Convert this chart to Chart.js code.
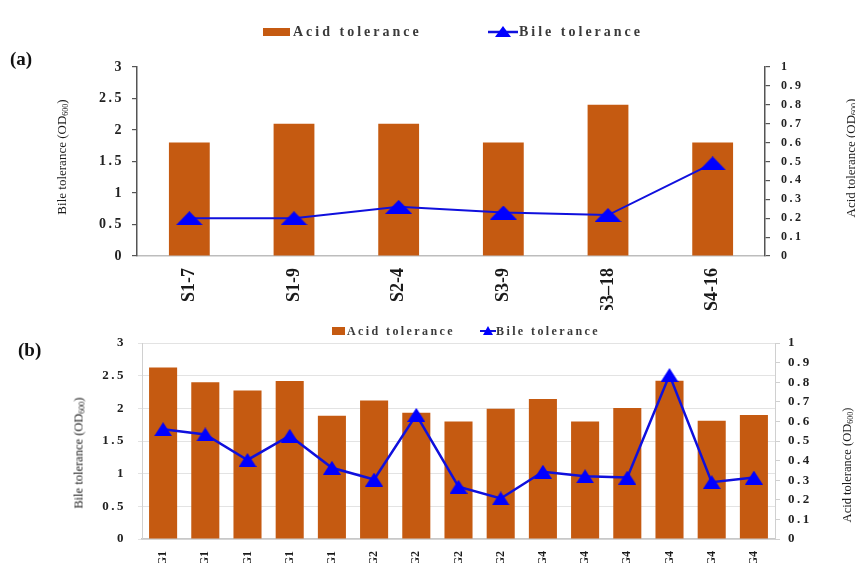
<!DOCTYPE html>
<html>
<head>
<meta charset="utf-8">
<script src="https://cdn.jsdelivr.net/npm/chart.js@4/dist/chart.umd.min.js"></script>
<style>
  html, body { margin: 0; padding: 0; background: #fff; }
  #wrap { position: relative; width: 855px; height: 563px; overflow: hidden; background: #fff; }
  .cv { position: absolute; left: 0; }
  .txt { position: absolute; white-space: nowrap; font-family: "Liberation Serif", "Times New Roman", serif; color: #222; }
  .panel { font-weight: bold; font-size: 19px; color: #111; }
  .leg { font-weight: bold; color: #3a3a3a; transform: translateY(-50%); }
  .ytitle { font-size: 13px; color: #1a1a1a; transform: translate(-50%, -50%) rotate(-90deg); }
  .ytitle sub { font-size: 8px; vertical-align: -2px; }
  .icon { position: absolute; }
</style>
</head>
<body>
<div id="wrap">
  <canvas id="chartA" class="cv" width="855" height="310" style="top:0"></canvas>
  <canvas id="chartB" class="cv" width="855" height="263" style="top:300px"></canvas>

  <!-- panel (a) labels -->
  <div class="txt panel" style="left:10px; top:48px;">(a)</div>
  <svg class="icon" style="left:263px; top:27px" width="28" height="10"><rect x="0" y="1" width="27" height="8" fill="#C55A11"/></svg>
  <div class="txt leg" style="left:293px; top:32px; font-size:14px; letter-spacing:3px;">Acid tolerance</div>
  <svg class="icon" style="left:486px; top:25px" width="34" height="14"><line x1="2" y1="7" x2="32" y2="7" stroke="#1010dd" stroke-width="2.5"/><polygon points="17,1 25,12 9,12" fill="#0000ff"/></svg>
  <div class="txt leg" style="left:519px; top:32px; font-size:14px; letter-spacing:3px;">Bile tolerance</div>
  <div class="txt ytitle" style="left:62px; top:157px;">Bile tolerance (OD<sub>600</sub>)</div>
  <div class="txt ytitle" style="left:851px; top:158px;">Acid tolerance (OD<sub>600</sub>)</div>

  <!-- panel (b) labels -->
  <div class="txt panel" style="left:18px; top:339px;">(b)</div>
  <svg class="icon" style="left:332px; top:326px" width="14" height="10"><rect x="0" y="1" width="13" height="8" fill="#C55A11"/></svg>
  <div class="txt leg" style="left:347px; top:331px; font-size:12px; letter-spacing:2.4px;">Acid tolerance</div>
  <svg class="icon" style="left:479px; top:325px" width="18" height="12"><line x1="1" y1="6" x2="17" y2="6" stroke="#1010dd" stroke-width="2"/><polygon points="9,1 14,10 4,10" fill="#0000ff"/></svg>
  <div class="txt leg" style="left:496px; top:331px; font-size:12px; letter-spacing:2.4px;">Bile tolerance</div>
  <div class="txt ytitle" style="left:79px; top:453px; font-size:12.5px;">Bile tolerance (OD<sub>600</sub>)</div>
  <div class="txt ytitle" style="left:847px; top:465px; font-size:12.5px;">Acid tolerance (OD<sub>600</sub>)</div>
</div>

<script>
// ---- data: panel (a) ----
const strainsA = ['S1-7', 'S1-9', 'S2-4', 'S3-9', 'S3\u201318', 'S4-16'];
const acidA = [0.6, 0.7, 0.7, 0.6, 0.8, 0.6];
const bileA = [0.6, 0.6, 0.78, 0.69, 0.65, 1.47];

// ---- data: panel (b) ----
const groupsB = ['G1', 'G1', 'G1', 'G1', 'G1', 'G2', 'G2', 'G2', 'G2', 'G4', 'G4', 'G4', 'G4', 'G4', 'G4'];
const acidB = [0.875, 0.8, 0.758, 0.806, 0.629, 0.707, 0.644, 0.6, 0.665, 0.714, 0.6, 0.668, 0.808, 0.603, 0.633];
const bileB = [1.68, 1.6, 1.21, 1.58, 1.09, 0.91, 1.9, 0.8, 0.62, 1.03, 0.96, 0.94, 2.51, 0.87, 0.94];

// ---- axis tick labels (shared by both panels) ----
const bileTicks = ['0', '0.5', '1', '1.5', '2', '2.5', '3'];
const acidTicks = ['0', '0.1', '0.2', '0.3', '0.4', '0.5', '0.6', '0.7', '0.8', '0.9', '1'];

const ORANGE = '#C55A11';
const BLUE_LINE = '#1010dd';
const BLUE_MARK = '#0000ff';
const SERIF = '"Liberation Serif", "Times New Roman", serif';

// flattened triangle marker drawn onto a small canvas
function triangleMarker(w, h, color) {
  const c = document.createElement('canvas');
  c.width = w; c.height = h;
  const g = c.getContext('2d');
  g.fillStyle = color;
  g.beginPath();
  g.moveTo(w / 2, 0);
  g.lineTo(w, h);
  g.lineTo(0, h);
  g.closePath();
  g.fill();
  return c;
}

// widen the tick labels of the value axes
function spacedLabels(ids, spacing) {
  return {
    id: 'spacedLabels',
    beforeDraw(chart) {
      ids.forEach(id => {
        const sc = chart.scales[id];
        if (!sc || sc._spaced) return;
        const orig = sc.drawLabels.bind(sc);
        sc.drawLabels = function (area) {
          const ctx = this.ctx;
          ctx.save();
          ctx.letterSpacing = spacing;
          orig(area);
          ctx.restore();
        };
        sc._spaced = true;
      });
    }
  };
}

// ---- panel (a) ----
new Chart(document.getElementById('chartA'), {
  type: 'bar',
  data: {
    labels: strainsA,
    datasets: [
      {
        type: 'line',
        label: 'Bile tolerance',
        data: bileA,
        yAxisID: 'y',
        borderColor: BLUE_LINE,
        borderWidth: 2,
        pointStyle: triangleMarker(27, 14, BLUE_MARK),
        pointRadius: 8,
        tension: 0,
        order: 0
      },
      {
        label: 'Acid tolerance',
        data: acidA,
        yAxisID: 'y1',
        backgroundColor: ORANGE,
        barPercentage: 0.39,
        categoryPercentage: 1,
        order: 1
      }
    ]
  },
  options: {
    responsive: false,
    animation: false,
    events: [],
    layout: { padding: { top: 67, left: 0, right: 0, bottom: 0 } },
    plugins: { legend: { display: false }, tooltip: { enabled: false } },
    scales: {
      x: {
        grid: { display: false },
        border: { display: true, color: '#bdbdbd', width: 1.5 },
        ticks: {
          maxRotation: 90, minRotation: 90, padding: 4,
          color: '#1a1a1a',
          font: { family: SERIF, size: 18, weight: 'bold' }
        },
        afterFit(s) { s.height = 54; }
      },
      y: {
        position: 'left',
        min: 0, max: 3,
        grid: { drawOnChartArea: false, drawTicks: true, tickLength: 5, color: '#555', lineWidth: 1.2 },
        border: { display: true, color: '#555', width: 1.5 },
        ticks: {
          stepSize: 0.5, padding: 8, color: '#222',
          font: { family: SERIF, size: 14, weight: 'bold' },
          callback: (v, i) => bileTicks[i]
        },
        afterFit(s) { s.width = 137; }
      },
      y1: {
        position: 'right',
        min: 0, max: 1,
        grid: { drawOnChartArea: false, drawTicks: true, tickLength: 5, color: '#555', lineWidth: 1.2 },
        border: { display: true, color: '#555', width: 1.5 },
        ticks: {
          stepSize: 0.1, padding: 11, color: '#222',
          font: { family: SERIF, size: 12, weight: 'bold' },
          callback: (v, i) => acidTicks[i]
        },
        afterFit(s) { s.width = 90; }
      }
    }
  },
  plugins: [spacedLabels(['y', 'y1'], '2.5px')]
});

// ---- panel (b) ----
new Chart(document.getElementById('chartB'), {
  type: 'bar',
  data: {
    labels: groupsB,
    datasets: [
      {
        type: 'line',
        label: 'Bile tolerance',
        data: bileB,
        yAxisID: 'y',
        borderColor: BLUE_LINE,
        borderWidth: 2.5,
        pointStyle: triangleMarker(18, 14, BLUE_MARK),
        pointRadius: 8,
        tension: 0,
        order: 0
      },
      {
        label: 'Acid tolerance',
        data: acidB,
        yAxisID: 'y1',
        backgroundColor: ORANGE,
        barPercentage: 0.665,
        categoryPercentage: 1,
        order: 1
      }
    ]
  },
  options: {
    responsive: false,
    animation: false,
    events: [],
    layout: { padding: { top: 43, left: 0, right: 0, bottom: 0 } },
    plugins: { legend: { display: false }, tooltip: { enabled: false } },
    scales: {
      x: {
        grid: { display: false },
        border: { display: true, color: '#c8c8c8', width: 1.5 },
        ticks: {
          maxRotation: 90, minRotation: 90, padding: 4,
          color: '#1a1a1a',
          font: { family: SERIF, size: 12, weight: 'bold' }
        },
        afterFit(s) { s.height = 24; }
      },
      y: {
        position: 'left',
        min: 0, max: 3,
        grid: { drawOnChartArea: true, drawTicks: true, tickLength: 4, color: '#e3e3e3', lineWidth: 1 },
        border: { display: true, color: '#d0d0d0', width: 1 },
        ticks: {
          stepSize: 0.5, padding: 12, color: '#222',
          font: { family: SERIF, size: 13, weight: 'bold' },
          callback: (v, i) => bileTicks[i]
        },
        afterFit(s) { s.width = 142; }
      },
      y1: {
        position: 'right',
        min: 0, max: 1,
        grid: { drawOnChartArea: false, drawTicks: true, tickLength: 5, color: '#d0d0d0', lineWidth: 1 },
        border: { display: true, color: '#d0d0d0', width: 1 },
        ticks: {
          stepSize: 0.1, padding: 8, color: '#222',
          font: { family: SERIF, size: 13, weight: 'bold' },
          callback: (v, i) => acidTicks[i]
        },
        afterFit(s) { s.width = 80; }
      }
    }
  },
  plugins: [spacedLabels(['y', 'y1'], '2.5px')]
});
</script>
</body>
</html>
